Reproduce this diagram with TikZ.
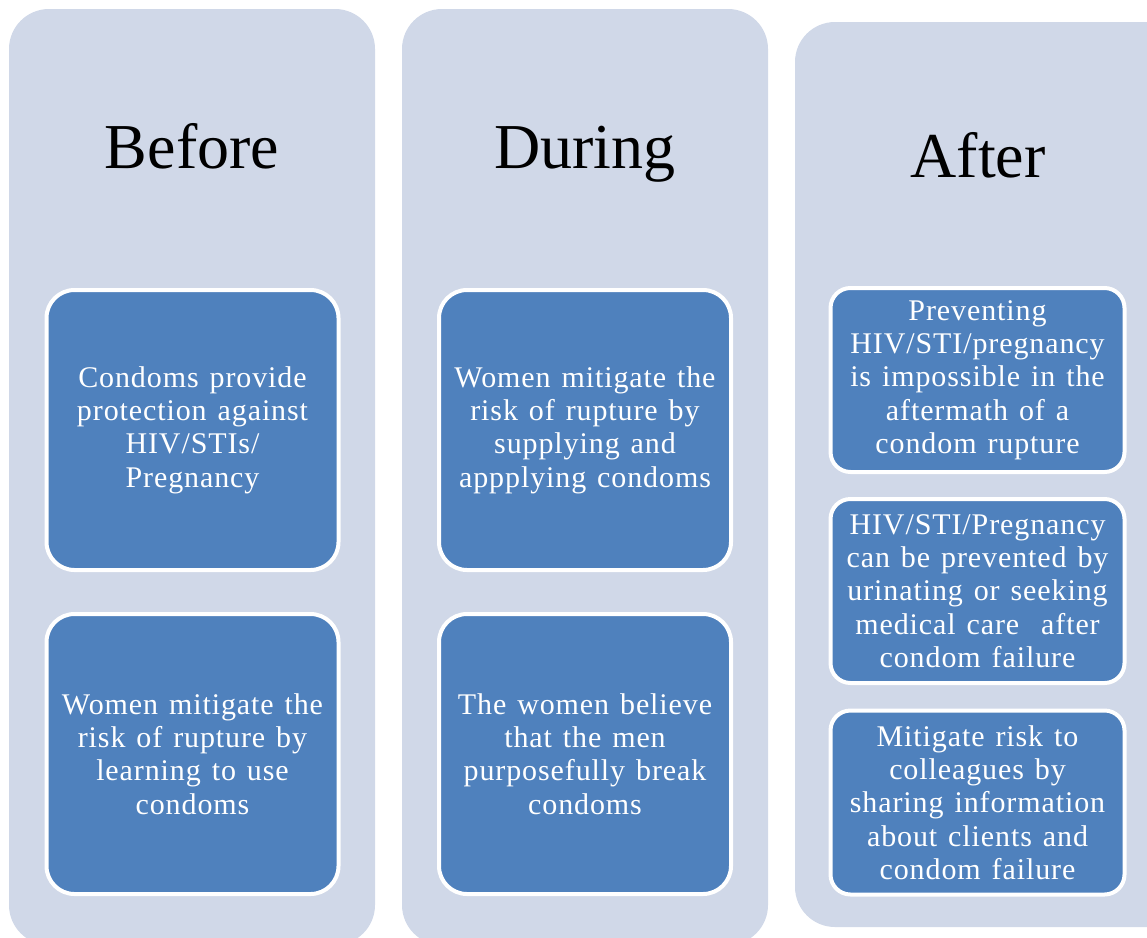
\documentclass[tikz,border=0pt]{standalone}
\usepackage{fontspec}
\setmainfont{Liberation Serif}
\newfontfamily\cardfont[LetterSpace=3,WordSpace=1.3]{Liberation Serif}
\definecolor{panelc}{HTML}{D0D8E8}
\definecolor{cardc}{HTML}{4F81BD}
\tikzset{
  panel/.style={fill=panelc, draw=none, rounded corners=40pt, inner sep=0pt},
  card/.style={rectangle, fill=cardc, draw=white, line width=4pt, text=white, align=center, inner sep=4pt,
    font=\cardfont\fontsize{30}{33.3}\selectfont},
  bigcard/.style={card, rounded corners=28pt, minimum width=292pt, minimum height=280pt},
  smallcard/.style={card, rounded corners=20pt, minimum width=294pt, minimum height=184pt},
  title/.style={text=black, font=\fontsize{64}{70}\selectfont, inner sep=0pt, anchor=base}
}
\begin{document}
\begin{tikzpicture}[x=1pt,y=1pt]
\useasboundingbox (0,0) rectangle (1147,-937);
\clip (0,0) rectangle (1147,-937);
% panels
\fill[panelc, rounded corners=40pt] (9,-9) rectangle (375,-945);
\fill[panelc, rounded corners=40pt] (402,-9) rectangle (768,-945);
\fill[panelc, rounded corners=40pt] (795,-22) rectangle (1190,-927);
% titles
\node[title] (tBefore) at (192,-168) {Before};
\node[title] (tDuring) at (585,-168) {During};
\node[title] (tAfter) at (978,-177) {After};
% column 1
\node[bigcard] (b1) at (192.5,-430) {Condoms provide\\protection against\\HIV/STIs/\\Pregnancy};
\node[bigcard] (b2) at (192.5,-754) {Women mitigate the\\risk of rupture by\\learning to use\\condoms};
% column 2
\node[bigcard] (d1) at (585,-430) {Women mitigate the\\risk of rupture by\\supplying and\\appplying condoms};
\node[bigcard] (d2) at (585,-754) {The women believe\\that the men\\purposefully break\\condoms};
% column 3
\node[smallcard] (a1) at (977.5,-380) {Preventing\\HIV/STI/pregnancy\\is impossible in the\\aftermath of a\\condom rupture};
\node[smallcard] (a2) at (977.5,-591) {HIV/STI/Pregnancy\\can be prevented by\\urinating or seeking\\medical care\ \ after\\condom failure};
\node[smallcard] (a3) at (977.5,-802.5) {Mitigate risk to\\colleagues by\\sharing information\\about clients and\\condom failure};
\end{tikzpicture}
\end{document}
